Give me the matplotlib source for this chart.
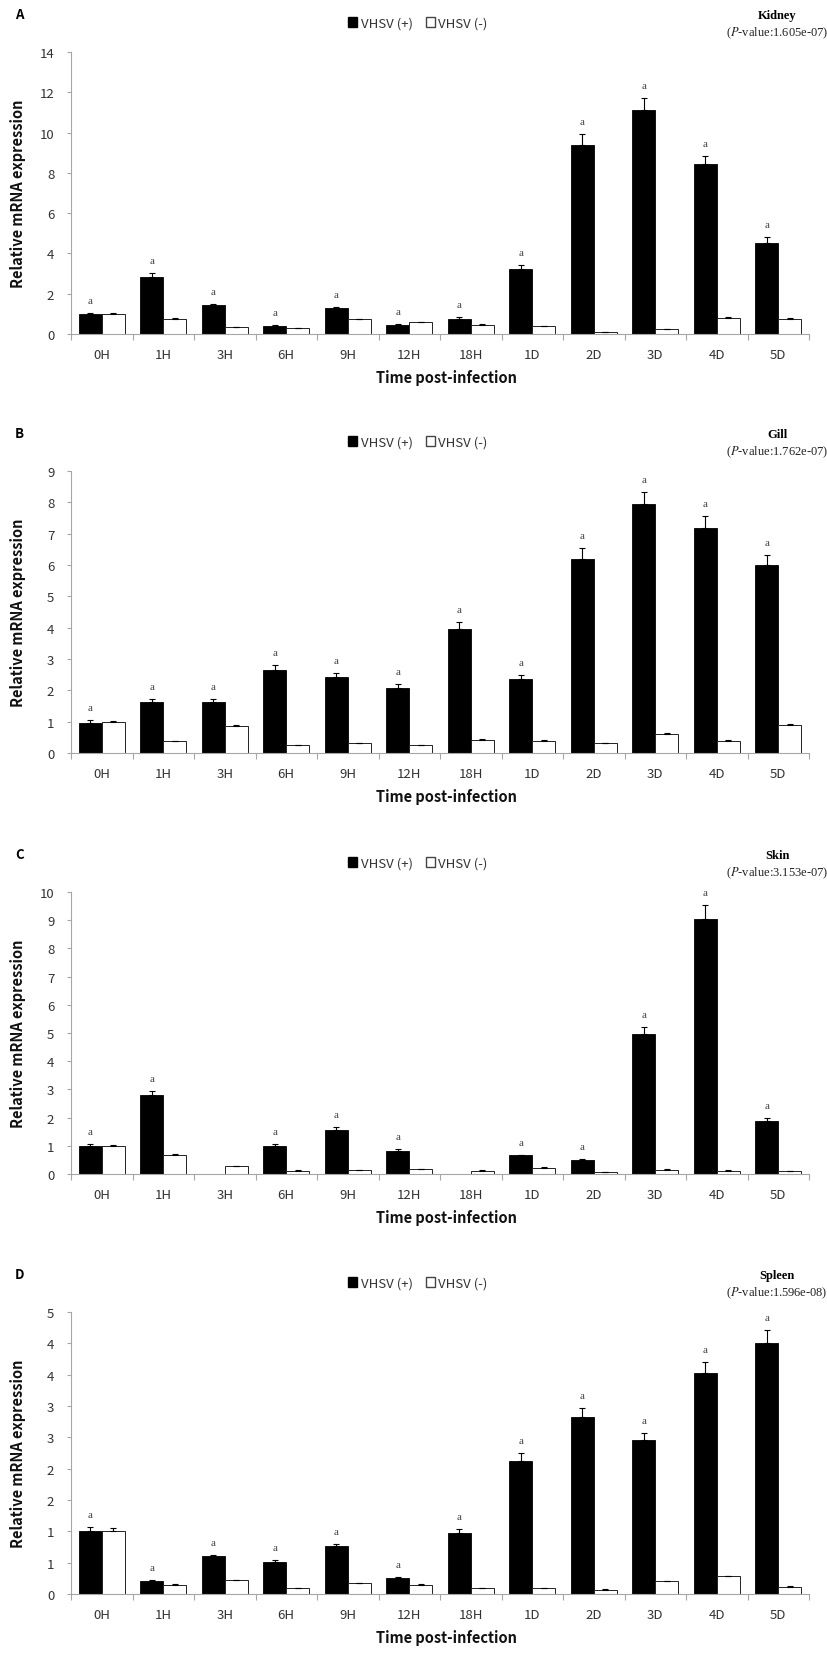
import matplotlib
matplotlib.use('Agg')
import matplotlib.pyplot as plt
from matplotlib.patches import Patch
import numpy as np

nan = np.nan

###############################################################################
# data

times = ['0H', '1H', '3H', '6H', '9H', '12H', '18H', '1D', '2D', '3D', '4D', '5D']

kidney_pos = [0.99, 2.85, 1.42, 0.40, 1.28, 0.46, 0.74, 3.21, 9.38, 11.13, 8.43, 4.51]
kidney_pos_err = [0.06, 0.20, 0.08, 0.03, 0.05, 0.03, 0.08, 0.20, 0.53, 0.58, 0.43, 0.31]
kidney_neg = [1.00, 0.76, 0.33, 0.31, 0.72, 0.58, 0.46, 0.38, 0.08, 0.25, 0.77, 0.76]
kidney_neg_err = [0.05, 0.02, 0.02, 0.01, 0.03, 0.01, 0.03, 0.03, 0.01, 0.01, 0.05, 0.02]
kidney_sig = [1] * 12

gill_pos = [0.97, 1.62, 1.62, 2.64, 2.41, 2.07, 3.96, 2.35, 6.20, 7.94, 7.18, 5.99]
gill_pos_err = [0.07, 0.09, 0.09, 0.16, 0.15, 0.12, 0.21, 0.14, 0.34, 0.38, 0.38, 0.32]
gill_neg = [0.99, 0.37, 0.87, 0.24, 0.31, 0.25, 0.42, 0.38, 0.31, 0.60, 0.38, 0.89]
gill_neg_err = [0.04, 0.02, 0.03, 0.01, 0.02, 0.01, 0.03, 0.02, 0.02, 0.03, 0.02, 0.03]
gill_sig = [1] * 12

skin_pos = [0.98, 2.80, nan, 0.98, 1.57, 0.83, nan, 0.67, 0.50, 4.96, 9.05, 1.89]
skin_pos_err = [0.07, 0.15, nan, 0.07, 0.08, 0.04, nan, 0.02, 0.04, 0.27, 0.48, 0.08]
skin_neg = [1.00, 0.67, 0.28, 0.12, 0.13, 0.17, 0.12, 0.22, 0.06, 0.15, 0.12, 0.10]
skin_neg_err = [0.03, 0.03, 0.02, 0.01, 0.01, 0.01, 0.01, 0.03, 0.01, 0.01, 0.01, 0.01]
skin_sig = [1, 1, 0, 1, 1, 1, 0, 1, 1, 1, 1, 1]

spleen_pos = [1.00, 0.21, 0.60, 0.51, 0.76, 0.25, 0.98, 2.13, 2.82, 2.45, 3.52, 4.00]
spleen_pos_err = [0.07, 0.02, 0.03, 0.04, 0.04, 0.02, 0.06, 0.12, 0.15, 0.12, 0.18, 0.21]
spleen_neg = [1.00, 0.15, 0.22, 0.09, 0.17, 0.15, 0.09, 0.09, 0.07, 0.20, 0.28, 0.11]
spleen_neg_err = [0.06, 0.01, 0.01, 0.005, 0.005, 0.005, 0.01, 0.005, 0.01, 0.01, 0.01, 0.01]
spleen_sig = [1] * 12

kidney_ticks = [0, 2, 4, 6, 8, 10, 12, 14]
gill_ticks = [0, 1, 2, 3, 4, 5, 6, 7, 8, 9]
skin_ticks = [0, 1, 2, 3, 4, 5, 6, 7, 8, 9, 10]
spleen_ticks = [0, 0.5, 1.0, 1.5, 2.0, 2.5, 3.0, 3.5, 4.0, 4.5]
# labels as printed (rounded to integers in the original)
spleen_tick_labels = ['0', '1', '1', '2', '2', '3', '3', '4', '4', '5']

panels = [
    ('A', 'Kidney', '1.605e-07', kidney_pos, kidney_pos_err, kidney_neg,
     kidney_neg_err, kidney_sig, kidney_ticks, None),
    ('B', 'Gill', '1.762e-07', gill_pos, gill_pos_err, gill_neg,
     gill_neg_err, gill_sig, gill_ticks, None),
    ('C', 'Skin', '3.153e-07', skin_pos, skin_pos_err, skin_neg,
     skin_neg_err, skin_sig, skin_ticks, None),
    ('D', 'Spleen', '1.596e-08', spleen_pos, spleen_pos_err, spleen_neg,
     spleen_neg_err, spleen_sig, spleen_ticks, spleen_tick_labels),
]

###############################################################################
# layout (pixels of the 827x1658 canvas)

W, H = 827, 1658
LEFT, RIGHT = 71, 809
PLOT_H = 282
BOTTOMS = [335, 754, 1175, 1595]

SANS = ['Noto Sans CJK KR', 'DejaVu Sans']
SERIF = ['Liberation Serif', 'DejaVu Serif']
GREY = '#a6a6a6'
TXT = '#333333'
BW = 0.375

fig = plt.figure(figsize=(W / 100, H / 100), dpi=100)

for (letter, organ, pval, pos, pos_err, neg, neg_err, sig, ticks,
     tick_labels), bottom in zip(panels, BOTTOMS):
    ax = fig.add_axes([LEFT / W, 1 - bottom / H,
                       (RIGHT - LEFT) / W, PLOT_H / H])
    x = np.arange(len(times))
    pos = np.array(pos, dtype=float)
    neg = np.array(neg, dtype=float)
    pos_err = np.array(pos_err, dtype=float)
    neg_err = np.array(neg_err, dtype=float)

    ax.bar(x - BW / 2, pos, BW, color='black', edgecolor='black',
           linewidth=0.6, zorder=2)
    ax.bar(x + BW / 2, neg, BW, color='white', edgecolor='#222222',
           linewidth=0.7, zorder=2)
    ax.errorbar(x - BW / 2, pos, yerr=[np.zeros_like(pos), pos_err],
                fmt='none', ecolor='black', elinewidth=0.8, capsize=2.5,
                capthick=0.8, zorder=3)
    ax.errorbar(x + BW / 2, neg, yerr=[np.zeros_like(neg), neg_err],
                fmt='none', ecolor='black', elinewidth=0.8, capsize=2.5,
                capthick=0.8, zorder=3)

    # significance letters
    for i, s in enumerate(sig):
        if s:
            ax.annotate('a', (x[i] - BW / 2, pos[i] + pos_err[i]),
                        xytext=(0, 9), textcoords='offset points',
                        ha='center', va='center', fontsize=8,
                        family=SERIF, color='#444444')

    ax.set_xlim(-0.5, len(times) - 0.5)
    ax.set_ylim(0, ticks[-1])
    ax.set_yticks(ticks)
    if tick_labels is not None:
        ax.set_yticklabels(tick_labels)
    ax.set_xticks(x)
    ax.set_xticklabels(times)
    ax.set_xticks(np.arange(-0.5, len(times)), minor=True)

    for side in ['top', 'right']:
        ax.spines[side].set_visible(False)
    for side in ['left', 'bottom']:
        ax.spines[side].set_color(GREY)
        ax.spines[side].set_linewidth(0.8)

    ax.tick_params(axis='y', direction='out', length=3, width=0.8,
                   color=GREY, pad=9, labelsize=9.5, labelcolor=TXT)
    ax.tick_params(axis='x', which='major', length=0, pad=10,
                   labelsize=9.5, labelcolor=TXT)
    ax.tick_params(axis='x', which='minor', direction='out', length=4,
                   width=0.8, color=GREY)
    for lab in ax.get_xticklabels() + ax.get_yticklabels():
        lab.set_family(SANS)

    # axis titles
    ax.text(0.5 + 6 / (RIGHT - LEFT), -43 / PLOT_H, 'Time post-infection',
            transform=ax.transAxes, ha='center', va='center',
            fontsize=10.5, fontweight='bold', family=SANS, color='#111111')
    fig.text(18 / W, 1 - (bottom - PLOT_H / 2) / H,
             'Relative mRNA expression', rotation=90, ha='center',
             va='center', fontsize=10.5, fontweight='bold', family=SANS,
             color='#111111')

    top = bottom - PLOT_H
    # panel letter
    fig.text(15 / W, 1 - (top - 38) / H, letter, ha='left', va='center',
             fontsize=9.5, fontweight='bold', family=SANS)
    # organ + p-value
    fig.text(777 / W, 1 - (top - 37) / H, organ, ha='center', va='center',
             fontsize=9, fontweight='bold', family=SERIF)
    fig.text(777 / W, 1 - (top - 20) / H,
             '($\\mathit{P}$-value:' + pval + ')', ha='center', va='center',
             fontsize=9, family=SERIF, color='#222222',
             math_fontfamily='stix')

    # legend
    handles = [Patch(facecolor='black', edgecolor='black', label='VHSV (+)'),
               Patch(facecolor='white', edgecolor='#444444',
                     label='VHSV (-)')]
    leg = ax.legend(handles=handles, loc='center', ncol=2, frameon=False,
                    bbox_to_anchor=((418 - LEFT) / (RIGHT - LEFT),
                                    1 + 29 / PLOT_H),
                    handlelength=0.7, handleheight=0.7, handletextpad=0.25,
                    columnspacing=1.0, borderpad=0,
                    prop={'family': SANS, 'size': 9.5})
    for t in leg.get_texts():
        t.set_color(TXT)

fig.savefig('out.png', dpi=100)
